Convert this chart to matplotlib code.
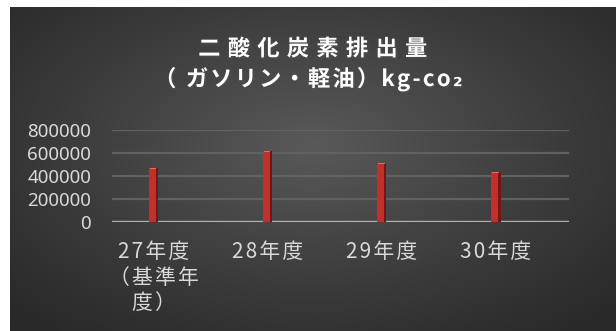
import numpy as np
import matplotlib.pyplot as plt
import matplotlib.patheffects as pe

plt.rcParams['font.family'] = ['Noto Sans CJK JP', 'DejaVu Sans']

# CO2 emissions per fiscal year
years = ['27年度\n（基準年\n度）', '28年度', '29年度', '30年度']
emissions = [470000, 620000, 513000, 435000]
yticks = [0, 200000, 400000, 600000, 800000]
title1 = '二酸化炭素排出量'
title2 = '（ ガソリン・軽油）kg-co₂'


def spaced(s, gap):
    # widen letter spacing line by line
    return '\n'.join(gap.join(line) for line in s.split('\n'))


fig = plt.figure(figsize=(6.16, 3.31), dpi=100)
fig.patch.set_facecolor('white')

# dark panel with a soft radial highlight
bg = fig.add_axes([10 / 616, 0, 606 / 616, 324 / 331])
gx, gy = np.meshgrid(np.linspace(-1, 1, 400), np.linspace(-1, 1, 220))
r = np.sqrt((gx * 0.95) ** 2 + ((gy + 0.15) * 0.9) ** 2)
shade = np.clip(1 - r / 1.35, 0, 1)
lo, hi = np.array([0.16, 0.16, 0.16]), np.array([0.35, 0.35, 0.35])
img = lo + (hi - lo) * shade[..., None] ** 1.1
bg.imshow(img, aspect='auto', extent=[0, 1, 0, 1], interpolation='bilinear')
bg.set_axis_off()

fx = 313 / 616
t1 = fig.text(fx, 1 - 49 / 331, spaced(title1, '\u2004'), ha='center', va='center',
              color='white', fontsize=16, fontweight='bold')
t2 = fig.text(fx - 4 / 616, 1 - 79 / 331, spaced(title2, '\u200a'), ha='center', va='center',
              color='white', fontsize=16, fontweight='bold')
for t in (t1, t2):
    t.set_path_effects([pe.SimplePatchShadow(offset=(1.5, -1.5), alpha=0.6), pe.Normal()])

ax = fig.add_axes([112 / 616, 1 - 222 / 331, 457 / 616, 92 / 331])
ax.patch.set_alpha(0)
x = np.arange(len(years))
w = 0.08
ax.bar(x, emissions, width=w, color='#c2302c', zorder=3)
ax.bar(x + w * 0.36, emissions, width=w * 0.28, color='#761614', zorder=4)
ax.bar(x - w * 0.05, [v * 0.012 for v in emissions], bottom=[v * 0.988 for v in emissions],
       width=w * 0.7, color='#ec6a66', zorder=5)

ax.set_xlim(-0.365, 3.64)
ax.set_ylim(0, 800000)
ax.set_yticks(yticks)
ax.set_yticklabels([str(v) for v in yticks], color='#d9d9d9', fontsize=13.5,
                   family=['Noto Sans', 'DejaVu Sans'])
ax.set_xticks(x)
ax.set_xticklabels([spaced(s, '\u200a') for s in years], color='#d9d9d9', fontsize=15,
                   linespacing=1.2, va='top')
ax.tick_params(length=0, axis='y', pad=15)
ax.tick_params(length=0, axis='x', pad=14)
ax.grid(axis='y', color='#616161', linewidth=1.6, zorder=1)
ax.axhline(0, color='#b0b0b0', linewidth=2.4, zorder=2)
for s in ax.spines.values():
    s.set_visible(False)

fig.savefig('out.png', dpi=100, facecolor=fig.get_facecolor())
